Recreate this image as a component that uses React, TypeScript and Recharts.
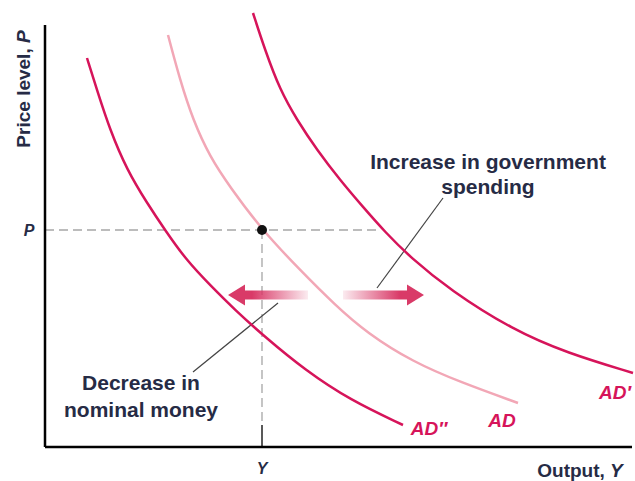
import React from 'react';
import { LineChart, Line, XAxis, YAxis, ReferenceLine, ReferenceDot } from 'recharts';

// curve coordinates (x = output, y = price level, plot units)
const adLeft = [
  { x: 42, y: 389 }, { x: 52, y: 357 }, { x: 65, y: 317 }, { x: 82, y: 277 },
  { x: 102, y: 244 }, { x: 120, y: 217 }, { x: 142, y: 186 }, { x: 165, y: 162 },
  { x: 190, y: 137 }, { x: 220, y: 110 }, { x: 260, y: 77 }, { x: 305, y: 47 },
  { x: 358, y: 22 },
];
const adMid = [
  { x: 123, y: 412 }, { x: 135, y: 367 }, { x: 148, y: 327 }, { x: 165, y: 290 },
  { x: 185, y: 260 }, { x: 217, y: 217 }, { x: 255, y: 177 }, { x: 290, y: 142 },
  { x: 322, y: 114 }, { x: 368, y: 85 }, { x: 415, y: 65 }, { x: 473, y: 44 },
];
const adRight = [
  { x: 208, y: 434 }, { x: 220, y: 397 }, { x: 235, y: 357 }, { x: 252, y: 327 },
  { x: 272, y: 297 }, { x: 295, y: 267 }, { x: 318, y: 240 }, { x: 340, y: 215 },
  { x: 365, y: 190 }, { x: 405, y: 157 }, { x: 468, y: 117 }, { x: 522, y: 94 },
  { x: 588, y: 74 },
];

const eqY = 217; // P
const eqX = 217; // Y

const DARK = '#d6145a';
const LIGHT = '#f2a7b6';
const ARROW = '#d93a68';
const INK = '#262b45';

// arrows: [tail, tip] at price level
const arrowY = 152;
const leftArrow = [263, 183];
const rightArrow = [298, 379];

const makeArrow = (id: string) => (p: any) => {
  const { x1, y1, x2 } = p;
  const dir = x2 > x1 ? 1 : -1;
  const head = 17;
  const base = x2 - dir * head;
  const sh = 4.5;
  const hh = 10.5;
  const pts = [
    [x1, y1 - sh], [base, y1 - sh], [base, y1 - hh], [x2, y1],
    [base, y1 + hh], [base, y1 + sh], [x1, y1 + sh],
  ].map((q) => q.join(',')).join(' ');
  return (
    <g>
      <defs>
        <linearGradient id={id} gradientUnits="userSpaceOnUse" x1={x1} y1={y1} x2={x2} y2={y1}>
          <stop offset="0" stopColor={ARROW} stopOpacity={0.1} />
          <stop offset="0.7" stopColor={ARROW} stopOpacity={1} />
          <stop offset="1" stopColor={ARROW} stopOpacity={1} />
        </linearGradient>
      </defs>
      <polygon points={pts} fill={`url(#${id})`} />
    </g>
  );
};

// each line is a list of [text, italic] parts
type Part = [string, boolean];
const txt = (lines: Part[][], opts: any = {}) => (p: any) => {
  const { cx, cy } = p;
  const size = opts.size || 21;
  const lh = opts.lh || 26;
  const off = -((lines.length - 1) * lh) / 2;
  return (
    <text
      x={cx}
      y={cy}
      textAnchor="middle"
      fontFamily="'Liberation Sans', Arial, sans-serif"
      fontWeight="bold"
      fontSize={size}
      fill={opts.color || INK}
      transform={opts.rotate ? `rotate(-90 ${cx} ${cy})` : undefined}
    >
      {lines.map((parts, i) => (
        <tspan key={i} x={cx} y={cy + off + i * lh} dy="0.35em">
          {parts.map(([s, it], j) => (
            <tspan key={j} fontStyle={it ? 'italic' : 'normal'}>{s}</tspan>
          ))}
        </tspan>
      ))}
    </text>
  );
};

export default function App() {
  return (
    <div style={{ position: 'absolute', left: 0, top: 0, background: '#fff' }}>
      <LineChart width={635} height={481} margin={{ top: 5, right: 0, left: 45, bottom: 34 }}>
        <XAxis type="number" dataKey="x" domain={[0, 590]} hide allowDataOverflow />
        <YAxis type="number" dataKey="y" domain={[0, 442]} hide allowDataOverflow />

        {/* guides */}
        <ReferenceLine segment={[{ x: 0, y: eqY }, { x: 336, y: eqY }]} stroke="#a6a6a6" strokeWidth={1.3} strokeDasharray="9 5" />
        <ReferenceLine segment={[{ x: eqX, y: eqY }, { x: eqX, y: 22 }]} stroke="#a6a6a6" strokeWidth={1.3} strokeDasharray="9 5" />
        <ReferenceLine segment={[{ x: eqX, y: 22 }, { x: eqX, y: 0 }]} stroke="#222" strokeWidth={1.5} />

        {/* axes */}
        <ReferenceLine segment={[{ x: 0, y: 0 }, { x: 587, y: 0 }]} stroke="#000" strokeWidth={2.5} ifOverflow="visible" />
        <ReferenceLine segment={[{ x: 0, y: 0 }, { x: 0, y: 422 }]} stroke="#000" strokeWidth={2.5} ifOverflow="visible" />

        {/* leader lines */}
        <ReferenceLine segment={[{ x: 398, y: 249 }, { x: 332, y: 159 }]} stroke="#444" strokeWidth={1.2} />
        <ReferenceLine segment={[{ x: 148, y: 75 }, { x: 233, y: 144 }]} stroke="#444" strokeWidth={1.2} />

        <Line data={adMid} dataKey="y" type="basis" stroke={LIGHT} strokeWidth={2.5} dot={false} isAnimationActive={false} />
        <Line data={adLeft} dataKey="y" type="basis" stroke={DARK} strokeWidth={2.5} dot={false} isAnimationActive={false} />
        <Line data={adRight} dataKey="y" type="basis" stroke={DARK} strokeWidth={2.5} dot={false} isAnimationActive={false} />

        {/* shift arrows */}
        <ReferenceLine segment={[{ x: leftArrow[0], y: arrowY }, { x: leftArrow[1], y: arrowY }]} shape={makeArrow('gl')} />
        <ReferenceLine segment={[{ x: rightArrow[0], y: arrowY }, { x: rightArrow[1], y: arrowY }]} shape={makeArrow('gr')} />

        <ReferenceDot x={eqX} y={eqY} r={5} fill="#111" stroke="none" />

        {/* labels */}
        <ReferenceDot x={-22} y={358} r={0} ifOverflow="visible" shape={txt([[['Price level, ', false], ['P', true]]], { size: 19, rotate: true })} />
        <ReferenceDot x={-16} y={217} r={0} ifOverflow="visible" shape={txt([[['P', true]]], { size: 16 })} />
        <ReferenceDot x={217} y={-21} r={0} ifOverflow="visible" shape={txt([[['Y', true]]], { size: 16 })} />
        <ReferenceDot x={535} y={-23} r={0} ifOverflow="visible" shape={txt([[['Output, ', false], ['Y', true]]], { size: 19 })} />
        <ReferenceDot x={384} y={19} r={0} ifOverflow="visible" shape={txt([[['AD\u2033', true]]], { size: 19, color: DARK })} />
        <ReferenceDot x={457} y={27} r={0} ifOverflow="visible" shape={txt([[['AD', true]]], { size: 19, color: DARK })} />
        <ReferenceDot x={570} y={55} r={0} ifOverflow="visible" shape={txt([[['AD\u2032', true]]], { size: 19, color: DARK })} />
        <ReferenceDot x={443} y={273} r={0} ifOverflow="visible" shape={txt([[['Increase in government', false]], [['spending', false]]], { lh: 25 })} />
        <ReferenceDot x={96} y={51} r={0} ifOverflow="visible" shape={txt([[['Decrease in', false]], [['nominal money', false]]], { lh: 27 })} />
      </LineChart>
    </div>
  );
}
